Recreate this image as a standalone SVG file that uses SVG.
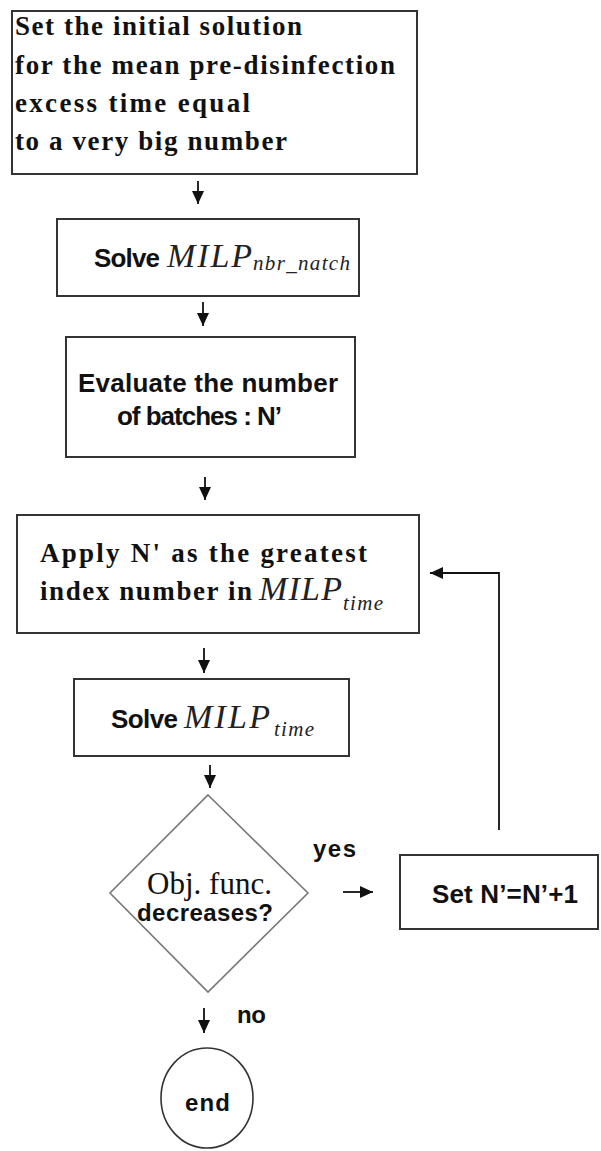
<svg xmlns="http://www.w3.org/2000/svg" width="601" height="1151" viewBox="0 0 601 1151">
<style>
.box{fill:#fff;stroke:#333;stroke-width:2}
.serifb{font-family:"Liberation Serif","Times New Roman",serif;font-weight:bold;font-size:27px;fill:#111}
.sansb{font-family:"Liberation Sans",Arial,sans-serif;font-weight:bold;font-size:26px;fill:#111}
.lbl{font-family:"Liberation Sans",Arial,sans-serif;font-weight:bold;font-size:24px;fill:#111}
.math{font-family:"Liberation Serif","Times New Roman",serif;font-style:italic;font-size:34px;fill:#222}
.sub{font-family:"Liberation Serif","Times New Roman",serif;font-style:italic;font-size:21px;fill:#222}
.serif{font-family:"Liberation Serif","Times New Roman",serif;font-size:31px;fill:#111}
.conn{fill:none;stroke:#111;stroke-width:1.8}
</style>
<defs>
<marker id="ah" markerWidth="14" markerHeight="14" refX="13" refY="6.5" orient="auto" markerUnits="userSpaceOnUse">
<path d="M0,0.5 L13,6.5 L0,12.5 z" fill="#111"/>
</marker>
</defs>
<rect width="601" height="1151" fill="#fff"/>
<g id="connectors">
<path class="conn" d="M198,181 V204" marker-end="url(#ah)"/>
<path class="conn" d="M203,302 V326" marker-end="url(#ah)"/>
<path class="conn" d="M205,477 V500" marker-end="url(#ah)"/>
<path class="conn" d="M204,648 V673" marker-end="url(#ah)"/>
<path class="conn" d="M210,765 V788" marker-end="url(#ah)"/>
<path class="conn" d="M343,892 H373" marker-end="url(#ah)"/>
<path class="conn" d="M499,830 V573 H430" marker-end="url(#ah)"/>
<path class="conn" d="M204,1008 V1033" marker-end="url(#ah)"/>
<text class="lbl" x="313" y="857" textLength="43">yes</text>
<text class="lbl" x="237" y="1023" textLength="29">no</text>
</g>
<g id="init">
<rect class="box" x="12" y="11" width="405" height="163"/>
<text class="serifb" x="15" y="35" textLength="287">Set the initial solution</text>
<text class="serifb" x="15" y="74" textLength="380">for the mean pre-disinfection</text>
<text class="serifb" x="15" y="112" textLength="235">excess time equal</text>
<text class="serifb" x="15" y="150" textLength="272">to a very big number</text>
</g>
<g id="solve-nbr">
<rect class="box" x="57" y="219" width="302" height="77"/>
<text class="sansb" x="94" y="267" textLength="66">Solve</text>
<text class="math" x="167" y="267" textLength="85">MILP</text>
<text class="sub" x="253" y="270" textLength="97">nbr_natch</text>
</g>
<g id="evaluate">
<rect class="box" x="66" y="337" width="289" height="120"/>
<text class="sansb" x="78" y="392" textLength="260">Evaluate the number</text>
<text class="sansb" x="117" y="425" textLength="165">of batches : N’</text>
</g>
<g id="apply">
<rect class="box" x="17" y="515" width="402" height="118"/>
<text class="serifb" x="40" y="562" textLength="327">Apply N' as the greatest</text>
<text class="serifb" x="40" y="600" textLength="212">index number in</text>
<text class="math" x="259" y="600" textLength="83">MILP</text>
<text class="sub" x="343" y="610" textLength="40">time</text>
</g>
<g id="solve-time">
<rect class="box" x="74" y="679" width="275" height="77"/>
<text class="sansb" x="111" y="728" textLength="67">Solve</text>
<text class="math" x="184" y="728" textLength="86">MILP</text>
<text class="sub" x="274" y="736" textLength="40">time</text>
</g>
<g id="decision">
<path d="M208,795 L308,893 L208,992 L110,893 z" fill="#fff" stroke="#777" stroke-width="1.6"/>
<text class="serif" x="147" y="894" textLength="125">Obj. func.</text>
<text class="lbl" x="137" y="921" textLength="136">decreases?</text>
</g>
<g id="increment">
<rect class="box" x="400" y="855" width="198" height="74"/>
<text class="sansb" x="432" y="903" textLength="146">Set N’=N’+1</text>
</g>
<g id="end">
<ellipse cx="207" cy="1098" rx="46" ry="50" fill="#fff" stroke="#333" stroke-width="1.6"/>
<text class="lbl" x="185" y="1111" textLength="45">end</text>
</g>
</svg>
